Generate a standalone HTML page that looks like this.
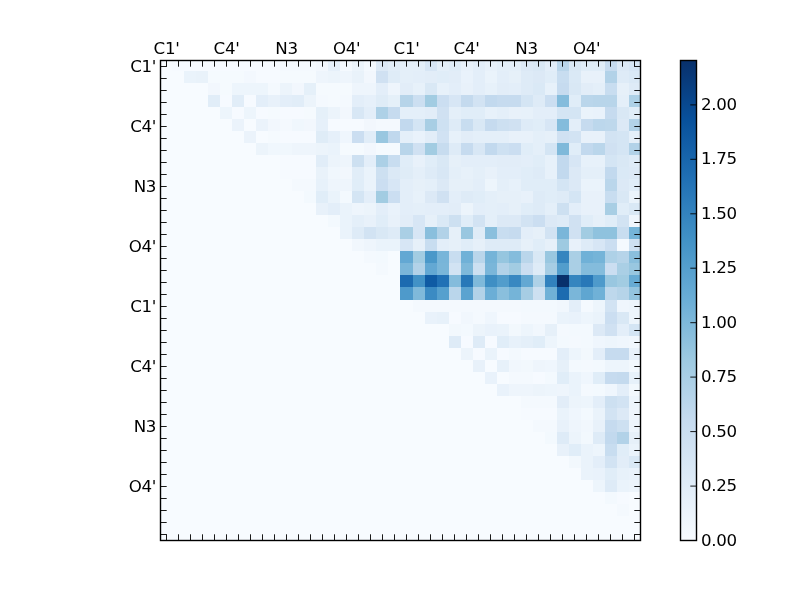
<!DOCTYPE html>
<html><head><meta charset="utf-8"><title>heatmap</title>
<style>
html,body{margin:0;padding:0;background:#fff;}
body{width:800px;height:600px;position:relative;overflow:hidden;font-family:"DejaVu Sans","Liberation Sans",sans-serif;}
svg{position:absolute;left:0;top:0;}
.t{position:absolute;font-size:16.67px;line-height:20px;height:20px;color:#000;white-space:nowrap;letter-spacing:-0.35px;}
</style></head><body>
<svg width="800" height="600" viewBox="0 0 800 600">
<defs><clipPath id="cp"><rect x="160" y="60" width="481" height="481"/></clipPath><linearGradient id="g" x1="0" y1="0" x2="0" y2="1"><stop offset="0.0000" stop-color="#08306b"/><stop offset="0.1250" stop-color="#08519c"/><stop offset="0.2500" stop-color="#2171b5"/><stop offset="0.3750" stop-color="#4292c6"/><stop offset="0.5000" stop-color="#6baed6"/><stop offset="0.6250" stop-color="#9ecae1"/><stop offset="0.7500" stop-color="#c6dbef"/><stop offset="0.8750" stop-color="#deebf7"/><stop offset="1.0000" stop-color="#f7fbff"/></linearGradient></defs>
<rect x="160" y="60" width="480" height="480" fill="#f7fbff"/>
<g shape-rendering="crispEdges" clip-path="url(#cp)">
<rect x="172" y="59" width="108" height="12" fill="#f6faff"/>
<rect x="280" y="59" width="36" height="12" fill="#f4f9fe"/>
<rect x="316" y="59" width="12" height="12" fill="#f2f7fd"/>
<rect x="328" y="59" width="12" height="12" fill="#e6f0fa"/>
<rect x="340" y="59" width="12" height="12" fill="#f4f9fe"/>
<rect x="352" y="59" width="12" height="12" fill="#ecf4fb"/>
<rect x="364" y="59" width="12" height="12" fill="#f4f9fe"/>
<rect x="376" y="59" width="12" height="12" fill="#dce9f6"/>
<rect x="388" y="59" width="12" height="12" fill="#e1edf8"/>
<rect x="400" y="59" width="25" height="12" fill="#e4eff9"/>
<rect x="425" y="59" width="12" height="12" fill="#d7e6f5"/>
<rect x="437" y="59" width="12" height="12" fill="#e4eff9"/>
<rect x="449" y="59" width="12" height="12" fill="#e0edf8"/>
<rect x="461" y="59" width="12" height="12" fill="#e8f1fa"/>
<rect x="473" y="59" width="12" height="12" fill="#e3eef9"/>
<rect x="485" y="59" width="12" height="12" fill="#e8f1fa"/>
<rect x="497" y="59" width="24" height="12" fill="#e4eff9"/>
<rect x="521" y="59" width="12" height="12" fill="#dce9f6"/>
<rect x="533" y="59" width="12" height="12" fill="#d9e8f5"/>
<rect x="545" y="59" width="12" height="12" fill="#e3eef9"/>
<rect x="557" y="59" width="12" height="12" fill="#bad6eb"/>
<rect x="569" y="59" width="12" height="12" fill="#d9e8f5"/>
<rect x="581" y="59" width="24" height="12" fill="#e0edf8"/>
<rect x="605" y="59" width="12" height="12" fill="#c6dbef"/>
<rect x="617" y="59" width="12" height="12" fill="#dce9f6"/>
<rect x="629" y="59" width="12" height="12" fill="#d7e6f5"/>
<rect x="184" y="71" width="12" height="12" fill="#eaf3fb"/>
<rect x="196" y="71" width="12" height="12" fill="#e9f2fa"/>
<rect x="208" y="71" width="36" height="12" fill="#f5fafe"/>
<rect x="244" y="71" width="12" height="12" fill="#f3f8fe"/>
<rect x="256" y="71" width="24" height="12" fill="#f6faff"/>
<rect x="280" y="71" width="36" height="12" fill="#f5fafe"/>
<rect x="316" y="71" width="12" height="12" fill="#eef5fc"/>
<rect x="328" y="71" width="12" height="12" fill="#ecf4fb"/>
<rect x="340" y="71" width="12" height="12" fill="#eef5fc"/>
<rect x="352" y="71" width="12" height="12" fill="#e9f2fa"/>
<rect x="364" y="71" width="12" height="12" fill="#f2f7fd"/>
<rect x="376" y="71" width="12" height="12" fill="#d0e1f2"/>
<rect x="388" y="71" width="12" height="12" fill="#dfecf7"/>
<rect x="400" y="71" width="13" height="12" fill="#e4eff9"/>
<rect x="413" y="71" width="12" height="12" fill="#e3eef9"/>
<rect x="425" y="71" width="12" height="12" fill="#e2edf8"/>
<rect x="437" y="71" width="12" height="12" fill="#e0edf8"/>
<rect x="449" y="71" width="12" height="12" fill="#e2edf8"/>
<rect x="461" y="71" width="12" height="12" fill="#e9f2fb"/>
<rect x="473" y="71" width="12" height="12" fill="#e3eef9"/>
<rect x="485" y="71" width="12" height="12" fill="#eaf3fb"/>
<rect x="497" y="71" width="12" height="12" fill="#e3eef9"/>
<rect x="509" y="71" width="12" height="12" fill="#e6f0f9"/>
<rect x="521" y="71" width="12" height="12" fill="#deebf7"/>
<rect x="533" y="71" width="12" height="12" fill="#dce9f6"/>
<rect x="545" y="71" width="12" height="12" fill="#e0edf8"/>
<rect x="557" y="71" width="12" height="12" fill="#c8ddf0"/>
<rect x="569" y="71" width="12" height="12" fill="#dae9f6"/>
<rect x="581" y="71" width="24" height="12" fill="#e8f1fa"/>
<rect x="605" y="71" width="12" height="12" fill="#b2d2e8"/>
<rect x="617" y="71" width="12" height="12" fill="#deebf7"/>
<rect x="629" y="71" width="12" height="12" fill="#dae9f6"/>
<rect x="208" y="83" width="12" height="12" fill="#f2f7fd"/>
<rect x="220" y="83" width="12" height="12" fill="#f5fafe"/>
<rect x="232" y="83" width="36" height="12" fill="#edf5fc"/>
<rect x="268" y="83" width="12" height="12" fill="#f4f9fe"/>
<rect x="280" y="83" width="12" height="12" fill="#ecf4fb"/>
<rect x="292" y="83" width="12" height="12" fill="#f2f7fd"/>
<rect x="304" y="83" width="12" height="12" fill="#e5f0f9"/>
<rect x="316" y="83" width="36" height="12" fill="#f5fafe"/>
<rect x="352" y="83" width="24" height="12" fill="#eef5fc"/>
<rect x="376" y="83" width="12" height="12" fill="#e3eef9"/>
<rect x="388" y="83" width="12" height="12" fill="#eef5fc"/>
<rect x="400" y="83" width="13" height="12" fill="#e2edf8"/>
<rect x="413" y="83" width="12" height="12" fill="#e7f1fa"/>
<rect x="425" y="83" width="12" height="12" fill="#d9e8f5"/>
<rect x="437" y="83" width="12" height="12" fill="#e7f1fa"/>
<rect x="449" y="83" width="12" height="12" fill="#e3eef9"/>
<rect x="461" y="83" width="12" height="12" fill="#e8f1fa"/>
<rect x="473" y="83" width="12" height="12" fill="#e3eef9"/>
<rect x="485" y="83" width="12" height="12" fill="#e7f1fa"/>
<rect x="497" y="83" width="12" height="12" fill="#e2edf8"/>
<rect x="509" y="83" width="12" height="12" fill="#e3eef9"/>
<rect x="521" y="83" width="12" height="12" fill="#deebf7"/>
<rect x="533" y="83" width="12" height="12" fill="#dae9f6"/>
<rect x="545" y="83" width="12" height="12" fill="#e7f1fa"/>
<rect x="557" y="83" width="12" height="12" fill="#c6dbef"/>
<rect x="569" y="83" width="12" height="12" fill="#d9e8f5"/>
<rect x="581" y="83" width="12" height="12" fill="#e2edf8"/>
<rect x="593" y="83" width="12" height="12" fill="#e4eff9"/>
<rect x="605" y="83" width="12" height="12" fill="#c8ddf0"/>
<rect x="617" y="83" width="12" height="12" fill="#e6f0f9"/>
<rect x="629" y="83" width="12" height="12" fill="#deebf7"/>
<rect x="208" y="95" width="12" height="12" fill="#e1edf8"/>
<rect x="220" y="95" width="12" height="12" fill="#f6faff"/>
<rect x="232" y="95" width="12" height="12" fill="#e1edf8"/>
<rect x="244" y="95" width="12" height="12" fill="#f6faff"/>
<rect x="256" y="95" width="12" height="12" fill="#e3eef9"/>
<rect x="268" y="95" width="12" height="12" fill="#e8f1fa"/>
<rect x="280" y="95" width="12" height="12" fill="#e3eef9"/>
<rect x="292" y="95" width="12" height="12" fill="#e1edf8"/>
<rect x="304" y="95" width="12" height="12" fill="#ecf4fb"/>
<rect x="316" y="95" width="12" height="12" fill="#f4f9fe"/>
<rect x="328" y="95" width="12" height="12" fill="#f5fafe"/>
<rect x="340" y="95" width="12" height="12" fill="#f4f9fe"/>
<rect x="352" y="95" width="12" height="12" fill="#e3eef9"/>
<rect x="364" y="95" width="12" height="12" fill="#e6f0fa"/>
<rect x="376" y="95" width="12" height="12" fill="#dfecf7"/>
<rect x="388" y="95" width="12" height="12" fill="#e5f0f9"/>
<rect x="400" y="95" width="13" height="12" fill="#b6d4e9"/>
<rect x="413" y="95" width="12" height="12" fill="#ccdff1"/>
<rect x="425" y="95" width="12" height="12" fill="#a2cce2"/>
<rect x="437" y="95" width="12" height="12" fill="#cbdef1"/>
<rect x="449" y="95" width="12" height="12" fill="#d7e6f5"/>
<rect x="461" y="95" width="12" height="12" fill="#c4daee"/>
<rect x="473" y="95" width="12" height="12" fill="#d2e3f3"/>
<rect x="485" y="95" width="12" height="12" fill="#c2d9ee"/>
<rect x="497" y="95" width="24" height="12" fill="#c6dbef"/>
<rect x="521" y="95" width="12" height="12" fill="#d4e5f4"/>
<rect x="533" y="95" width="12" height="12" fill="#deebf7"/>
<rect x="545" y="95" width="12" height="12" fill="#cbdef1"/>
<rect x="557" y="95" width="12" height="12" fill="#84bcdc"/>
<rect x="569" y="95" width="12" height="12" fill="#e0edf8"/>
<rect x="581" y="95" width="12" height="12" fill="#bad6eb"/>
<rect x="593" y="95" width="24" height="12" fill="#b8d5ea"/>
<rect x="617" y="95" width="12" height="12" fill="#e4eff9"/>
<rect x="629" y="95" width="12" height="12" fill="#aed1e7"/>
<rect x="220" y="107" width="12" height="12" fill="#edf5fc"/>
<rect x="232" y="107" width="12" height="12" fill="#f6faff"/>
<rect x="244" y="107" width="12" height="12" fill="#edf5fc"/>
<rect x="256" y="107" width="12" height="12" fill="#f6faff"/>
<rect x="268" y="107" width="12" height="12" fill="#f5fafe"/>
<rect x="280" y="107" width="24" height="12" fill="#f6faff"/>
<rect x="304" y="107" width="12" height="12" fill="#f5fafe"/>
<rect x="316" y="107" width="12" height="12" fill="#e5f0f9"/>
<rect x="328" y="107" width="12" height="12" fill="#ecf4fb"/>
<rect x="340" y="107" width="12" height="12" fill="#f2f7fd"/>
<rect x="352" y="107" width="12" height="12" fill="#d8e7f5"/>
<rect x="364" y="107" width="12" height="12" fill="#e3eef9"/>
<rect x="376" y="107" width="12" height="12" fill="#aed1e7"/>
<rect x="388" y="107" width="12" height="12" fill="#c6dbef"/>
<rect x="400" y="107" width="25" height="12" fill="#e4eff9"/>
<rect x="425" y="107" width="12" height="12" fill="#e2edf8"/>
<rect x="437" y="107" width="12" height="12" fill="#d0e1f2"/>
<rect x="449" y="107" width="12" height="12" fill="#e4eff9"/>
<rect x="461" y="107" width="24" height="12" fill="#e0edf8"/>
<rect x="485" y="107" width="12" height="12" fill="#e7f1fa"/>
<rect x="497" y="107" width="12" height="12" fill="#e4eff9"/>
<rect x="509" y="107" width="12" height="12" fill="#e8f1fa"/>
<rect x="521" y="107" width="12" height="12" fill="#e7f1fa"/>
<rect x="533" y="107" width="24" height="12" fill="#e3eef9"/>
<rect x="557" y="107" width="24" height="12" fill="#d4e5f4"/>
<rect x="581" y="107" width="12" height="12" fill="#eaf3fb"/>
<rect x="593" y="107" width="12" height="12" fill="#e9f2fb"/>
<rect x="605" y="107" width="12" height="12" fill="#c6dbef"/>
<rect x="617" y="107" width="12" height="12" fill="#d9e8f5"/>
<rect x="629" y="107" width="12" height="12" fill="#e0edf8"/>
<rect x="232" y="119" width="12" height="12" fill="#ebf3fb"/>
<rect x="256" y="119" width="12" height="12" fill="#ebf3fb"/>
<rect x="268" y="119" width="12" height="12" fill="#f2f7fd"/>
<rect x="280" y="119" width="12" height="12" fill="#f4f9fe"/>
<rect x="292" y="119" width="12" height="12" fill="#f0f7fd"/>
<rect x="304" y="119" width="12" height="12" fill="#f2f7fd"/>
<rect x="316" y="119" width="12" height="12" fill="#e6f0fa"/>
<rect x="328" y="119" width="36" height="12" fill="#f6faff"/>
<rect x="364" y="119" width="12" height="12" fill="#f2f7fd"/>
<rect x="376" y="119" width="24" height="12" fill="#f4f9fe"/>
<rect x="400" y="119" width="13" height="12" fill="#c2d9ee"/>
<rect x="413" y="119" width="12" height="12" fill="#d4e5f4"/>
<rect x="425" y="119" width="12" height="12" fill="#a8cee4"/>
<rect x="437" y="119" width="12" height="12" fill="#cee1f2"/>
<rect x="449" y="119" width="12" height="12" fill="#deebf7"/>
<rect x="461" y="119" width="12" height="12" fill="#c8ddf0"/>
<rect x="473" y="119" width="12" height="12" fill="#d9e8f5"/>
<rect x="485" y="119" width="12" height="12" fill="#c6dbef"/>
<rect x="497" y="119" width="12" height="12" fill="#cde0f1"/>
<rect x="509" y="119" width="12" height="12" fill="#d0e1f2"/>
<rect x="521" y="119" width="12" height="12" fill="#deebf7"/>
<rect x="533" y="119" width="12" height="12" fill="#e0edf8"/>
<rect x="545" y="119" width="12" height="12" fill="#d7e6f5"/>
<rect x="557" y="119" width="12" height="12" fill="#84bcdc"/>
<rect x="569" y="119" width="12" height="12" fill="#e3eef9"/>
<rect x="581" y="119" width="12" height="12" fill="#c6dbef"/>
<rect x="593" y="119" width="12" height="12" fill="#bcd7ec"/>
<rect x="605" y="119" width="12" height="12" fill="#bed8ec"/>
<rect x="617" y="119" width="12" height="12" fill="#dce9f6"/>
<rect x="629" y="119" width="12" height="12" fill="#b2d2e8"/>
<rect x="244" y="131" width="12" height="12" fill="#ebf3fb"/>
<rect x="268" y="131" width="12" height="12" fill="#f5fafe"/>
<rect x="280" y="131" width="36" height="12" fill="#f6faff"/>
<rect x="316" y="131" width="12" height="12" fill="#dfecf7"/>
<rect x="328" y="131" width="12" height="12" fill="#e6f0fa"/>
<rect x="340" y="131" width="12" height="12" fill="#eff6fd"/>
<rect x="352" y="131" width="12" height="12" fill="#cbdef1"/>
<rect x="364" y="131" width="12" height="12" fill="#e1edf8"/>
<rect x="376" y="131" width="12" height="12" fill="#99c7e0"/>
<rect x="388" y="131" width="12" height="12" fill="#c0d8ed"/>
<rect x="400" y="131" width="13" height="12" fill="#e4eff9"/>
<rect x="413" y="131" width="12" height="12" fill="#e9f2fb"/>
<rect x="425" y="131" width="12" height="12" fill="#e2edf8"/>
<rect x="437" y="131" width="12" height="12" fill="#d1e2f3"/>
<rect x="449" y="131" width="12" height="12" fill="#e7f1fa"/>
<rect x="461" y="131" width="12" height="12" fill="#e2edf8"/>
<rect x="473" y="131" width="36" height="12" fill="#e4eff9"/>
<rect x="509" y="131" width="24" height="12" fill="#e8f1fa"/>
<rect x="533" y="131" width="12" height="12" fill="#e4eff9"/>
<rect x="545" y="131" width="12" height="12" fill="#e6f0f9"/>
<rect x="557" y="131" width="12" height="12" fill="#d0e1f2"/>
<rect x="569" y="131" width="12" height="12" fill="#d2e3f3"/>
<rect x="581" y="131" width="24" height="12" fill="#e8f1fa"/>
<rect x="605" y="131" width="12" height="12" fill="#d2e3f3"/>
<rect x="617" y="131" width="12" height="12" fill="#d4e5f4"/>
<rect x="629" y="131" width="12" height="12" fill="#e4eff9"/>
<rect x="256" y="143" width="12" height="12" fill="#ecf4fb"/>
<rect x="268" y="143" width="24" height="12" fill="#f0f7fd"/>
<rect x="292" y="143" width="24" height="12" fill="#eef5fc"/>
<rect x="316" y="143" width="12" height="12" fill="#ecf4fb"/>
<rect x="328" y="143" width="12" height="12" fill="#eaf3fb"/>
<rect x="340" y="143" width="24" height="12" fill="#f5fafe"/>
<rect x="364" y="143" width="12" height="12" fill="#f2f7fd"/>
<rect x="376" y="143" width="24" height="12" fill="#f5fafe"/>
<rect x="400" y="143" width="13" height="12" fill="#b8d5ea"/>
<rect x="413" y="143" width="12" height="12" fill="#d0e1f2"/>
<rect x="425" y="143" width="12" height="12" fill="#a2cce2"/>
<rect x="437" y="143" width="12" height="12" fill="#c7dcef"/>
<rect x="449" y="143" width="12" height="12" fill="#deebf7"/>
<rect x="461" y="143" width="12" height="12" fill="#c6dbef"/>
<rect x="473" y="143" width="12" height="12" fill="#d8e7f5"/>
<rect x="485" y="143" width="12" height="12" fill="#c2d9ee"/>
<rect x="497" y="143" width="12" height="12" fill="#cee1f2"/>
<rect x="509" y="143" width="12" height="12" fill="#cbdef1"/>
<rect x="521" y="143" width="12" height="12" fill="#e0edf8"/>
<rect x="533" y="143" width="12" height="12" fill="#e4eff9"/>
<rect x="545" y="143" width="12" height="12" fill="#d4e5f4"/>
<rect x="557" y="143" width="12" height="12" fill="#7fb9da"/>
<rect x="569" y="143" width="12" height="12" fill="#e0edf8"/>
<rect x="581" y="143" width="12" height="12" fill="#c2d9ee"/>
<rect x="593" y="143" width="12" height="12" fill="#bad6eb"/>
<rect x="605" y="143" width="12" height="12" fill="#d0e1f2"/>
<rect x="617" y="143" width="12" height="12" fill="#d4e5f4"/>
<rect x="629" y="143" width="12" height="12" fill="#b2d2e8"/>
<rect x="280" y="155" width="36" height="12" fill="#f6faff"/>
<rect x="316" y="155" width="12" height="12" fill="#e1edf8"/>
<rect x="328" y="155" width="12" height="12" fill="#ecf4fb"/>
<rect x="340" y="155" width="12" height="12" fill="#eef5fc"/>
<rect x="352" y="155" width="12" height="12" fill="#cde0f1"/>
<rect x="364" y="155" width="12" height="12" fill="#e3eef9"/>
<rect x="376" y="155" width="12" height="12" fill="#acd0e6"/>
<rect x="388" y="155" width="12" height="12" fill="#c8ddf0"/>
<rect x="400" y="155" width="13" height="12" fill="#e0edf8"/>
<rect x="413" y="155" width="12" height="12" fill="#e8f1fa"/>
<rect x="425" y="155" width="12" height="12" fill="#e0edf8"/>
<rect x="437" y="155" width="12" height="12" fill="#d9e8f5"/>
<rect x="449" y="155" width="12" height="12" fill="#e6f0f9"/>
<rect x="461" y="155" width="36" height="12" fill="#e3eef9"/>
<rect x="497" y="155" width="24" height="12" fill="#e2edf8"/>
<rect x="521" y="155" width="12" height="12" fill="#e3eef9"/>
<rect x="533" y="155" width="12" height="12" fill="#e0edf8"/>
<rect x="545" y="155" width="12" height="12" fill="#e7f1fa"/>
<rect x="557" y="155" width="12" height="12" fill="#c2d9ee"/>
<rect x="569" y="155" width="12" height="12" fill="#d7e6f5"/>
<rect x="581" y="155" width="24" height="12" fill="#e7f1fa"/>
<rect x="605" y="155" width="12" height="12" fill="#d4e5f4"/>
<rect x="617" y="155" width="12" height="12" fill="#d9e8f5"/>
<rect x="629" y="155" width="12" height="12" fill="#deebf7"/>
<rect x="280" y="167" width="36" height="12" fill="#f6faff"/>
<rect x="316" y="167" width="12" height="12" fill="#e9f2fa"/>
<rect x="328" y="167" width="12" height="12" fill="#f0f7fd"/>
<rect x="340" y="167" width="12" height="12" fill="#f2f7fd"/>
<rect x="352" y="167" width="12" height="12" fill="#e1edf8"/>
<rect x="364" y="167" width="12" height="12" fill="#eaf3fb"/>
<rect x="376" y="167" width="12" height="12" fill="#cde0f1"/>
<rect x="388" y="167" width="12" height="12" fill="#dbe9f6"/>
<rect x="400" y="167" width="13" height="12" fill="#dfecf7"/>
<rect x="413" y="167" width="12" height="12" fill="#e4eff9"/>
<rect x="425" y="167" width="12" height="12" fill="#deebf7"/>
<rect x="437" y="167" width="12" height="12" fill="#d8e7f5"/>
<rect x="449" y="167" width="12" height="12" fill="#e4eff9"/>
<rect x="461" y="167" width="12" height="12" fill="#e7f1fa"/>
<rect x="473" y="167" width="12" height="12" fill="#e4eff9"/>
<rect x="485" y="167" width="12" height="12" fill="#e8f1fa"/>
<rect x="497" y="167" width="24" height="12" fill="#e3eef9"/>
<rect x="521" y="167" width="12" height="12" fill="#e0edf8"/>
<rect x="533" y="167" width="12" height="12" fill="#deebf7"/>
<rect x="545" y="167" width="12" height="12" fill="#e7f1fa"/>
<rect x="557" y="167" width="12" height="12" fill="#c2d9ee"/>
<rect x="569" y="167" width="12" height="12" fill="#dce9f6"/>
<rect x="581" y="167" width="24" height="12" fill="#e4eff9"/>
<rect x="605" y="167" width="12" height="12" fill="#c2d9ee"/>
<rect x="617" y="167" width="12" height="12" fill="#dae9f6"/>
<rect x="629" y="167" width="12" height="12" fill="#dce9f6"/>
<rect x="292" y="179" width="24" height="12" fill="#f4f9fe"/>
<rect x="316" y="179" width="12" height="12" fill="#e7f1fa"/>
<rect x="328" y="179" width="24" height="12" fill="#eef5fc"/>
<rect x="352" y="179" width="12" height="12" fill="#e0edf8"/>
<rect x="364" y="179" width="12" height="12" fill="#eaf3fb"/>
<rect x="376" y="179" width="12" height="12" fill="#cbdef1"/>
<rect x="388" y="179" width="12" height="12" fill="#d7e6f5"/>
<rect x="400" y="179" width="13" height="12" fill="#e3eef9"/>
<rect x="413" y="179" width="12" height="12" fill="#e6f0f9"/>
<rect x="425" y="179" width="12" height="12" fill="#e4eff9"/>
<rect x="437" y="179" width="12" height="12" fill="#dce9f6"/>
<rect x="449" y="179" width="24" height="12" fill="#e6f0f9"/>
<rect x="473" y="179" width="12" height="12" fill="#e3eef9"/>
<rect x="485" y="179" width="12" height="12" fill="#edf5fc"/>
<rect x="497" y="179" width="12" height="12" fill="#e4eff9"/>
<rect x="509" y="179" width="12" height="12" fill="#e7f1fa"/>
<rect x="521" y="179" width="36" height="12" fill="#e0edf8"/>
<rect x="557" y="179" width="12" height="12" fill="#d4e5f4"/>
<rect x="569" y="179" width="12" height="12" fill="#dce9f6"/>
<rect x="581" y="179" width="24" height="12" fill="#eaf3fb"/>
<rect x="605" y="179" width="12" height="12" fill="#bad6eb"/>
<rect x="617" y="179" width="12" height="12" fill="#dce9f6"/>
<rect x="629" y="179" width="12" height="12" fill="#e0edf8"/>
<rect x="304" y="191" width="12" height="12" fill="#f3f9fe"/>
<rect x="316" y="191" width="12" height="12" fill="#e0edf8"/>
<rect x="328" y="191" width="12" height="12" fill="#eaf3fb"/>
<rect x="340" y="191" width="12" height="12" fill="#f3f9fe"/>
<rect x="352" y="191" width="12" height="12" fill="#d4e5f4"/>
<rect x="364" y="191" width="12" height="12" fill="#e3eef9"/>
<rect x="376" y="191" width="12" height="12" fill="#a2cce2"/>
<rect x="388" y="191" width="12" height="12" fill="#cbdef1"/>
<rect x="400" y="191" width="13" height="12" fill="#e3eef9"/>
<rect x="413" y="191" width="12" height="12" fill="#e7f1fa"/>
<rect x="425" y="191" width="12" height="12" fill="#dce9f6"/>
<rect x="437" y="191" width="12" height="12" fill="#d0e1f2"/>
<rect x="449" y="191" width="12" height="12" fill="#e3eef9"/>
<rect x="461" y="191" width="12" height="12" fill="#deebf7"/>
<rect x="473" y="191" width="12" height="12" fill="#e0edf8"/>
<rect x="485" y="191" width="12" height="12" fill="#e4eff9"/>
<rect x="497" y="191" width="24" height="12" fill="#e6f0f9"/>
<rect x="521" y="191" width="12" height="12" fill="#e8f1fa"/>
<rect x="533" y="191" width="12" height="12" fill="#deebf7"/>
<rect x="545" y="191" width="12" height="12" fill="#e0edf8"/>
<rect x="557" y="191" width="12" height="12" fill="#deebf7"/>
<rect x="569" y="191" width="12" height="12" fill="#d4e5f4"/>
<rect x="581" y="191" width="24" height="12" fill="#e8f1fa"/>
<rect x="605" y="191" width="12" height="12" fill="#c8ddf0"/>
<rect x="617" y="191" width="12" height="12" fill="#d9e8f5"/>
<rect x="629" y="191" width="12" height="12" fill="#eaf3fb"/>
<rect x="316" y="203" width="12" height="12" fill="#e8f1fa"/>
<rect x="328" y="203" width="12" height="12" fill="#e3eef9"/>
<rect x="340" y="203" width="12" height="12" fill="#eaf3fb"/>
<rect x="352" y="203" width="12" height="12" fill="#eef5fc"/>
<rect x="364" y="203" width="12" height="12" fill="#ecf4fb"/>
<rect x="376" y="203" width="12" height="12" fill="#e3eef9"/>
<rect x="388" y="203" width="12" height="12" fill="#e9f2fb"/>
<rect x="400" y="203" width="13" height="12" fill="#e3eef9"/>
<rect x="413" y="203" width="12" height="12" fill="#e4eff9"/>
<rect x="425" y="203" width="24" height="12" fill="#e3eef9"/>
<rect x="449" y="203" width="12" height="12" fill="#e2edf8"/>
<rect x="461" y="203" width="12" height="12" fill="#ecf4fb"/>
<rect x="473" y="203" width="12" height="12" fill="#e3eef9"/>
<rect x="485" y="203" width="12" height="12" fill="#e4eff9"/>
<rect x="497" y="203" width="12" height="12" fill="#e3eef9"/>
<rect x="509" y="203" width="12" height="12" fill="#e6f0f9"/>
<rect x="521" y="203" width="12" height="12" fill="#e0edf8"/>
<rect x="533" y="203" width="12" height="12" fill="#deebf7"/>
<rect x="545" y="203" width="12" height="12" fill="#e4eff9"/>
<rect x="557" y="203" width="12" height="12" fill="#cde0f1"/>
<rect x="569" y="203" width="12" height="12" fill="#e3eef9"/>
<rect x="581" y="203" width="24" height="12" fill="#e8f1fa"/>
<rect x="605" y="203" width="12" height="12" fill="#a8cee4"/>
<rect x="617" y="203" width="12" height="12" fill="#e0edf8"/>
<rect x="629" y="203" width="12" height="12" fill="#d9e8f5"/>
<rect x="328" y="215" width="12" height="12" fill="#f3f9fe"/>
<rect x="340" y="215" width="12" height="12" fill="#eaf3fb"/>
<rect x="352" y="215" width="12" height="12" fill="#e4eff9"/>
<rect x="364" y="215" width="12" height="12" fill="#e8f1fa"/>
<rect x="376" y="215" width="12" height="12" fill="#e0edf8"/>
<rect x="388" y="215" width="12" height="12" fill="#e8f1fa"/>
<rect x="400" y="215" width="13" height="12" fill="#e2edf8"/>
<rect x="413" y="215" width="12" height="12" fill="#d7e6f5"/>
<rect x="425" y="215" width="12" height="12" fill="#e6f0f9"/>
<rect x="437" y="215" width="12" height="12" fill="#dae9f6"/>
<rect x="449" y="215" width="12" height="12" fill="#cde0f1"/>
<rect x="461" y="215" width="12" height="12" fill="#e0edf8"/>
<rect x="473" y="215" width="12" height="12" fill="#d2e3f3"/>
<rect x="485" y="215" width="12" height="12" fill="#e4eff9"/>
<rect x="497" y="215" width="24" height="12" fill="#dce9f6"/>
<rect x="521" y="215" width="12" height="12" fill="#d2e3f3"/>
<rect x="533" y="215" width="12" height="12" fill="#cbdef1"/>
<rect x="545" y="215" width="12" height="12" fill="#dce9f6"/>
<rect x="557" y="215" width="12" height="12" fill="#deebf7"/>
<rect x="569" y="215" width="12" height="12" fill="#d0e1f2"/>
<rect x="581" y="215" width="12" height="12" fill="#e0edf8"/>
<rect x="593" y="215" width="12" height="12" fill="#e6f0f9"/>
<rect x="605" y="215" width="12" height="12" fill="#e0edf8"/>
<rect x="617" y="215" width="12" height="12" fill="#d2e3f3"/>
<rect x="629" y="215" width="12" height="12" fill="#eff6fd"/>
<rect x="340" y="227" width="12" height="12" fill="#eaf3fb"/>
<rect x="352" y="227" width="12" height="12" fill="#deebf7"/>
<rect x="364" y="227" width="12" height="12" fill="#d2e3f3"/>
<rect x="376" y="227" width="12" height="12" fill="#d9e8f5"/>
<rect x="388" y="227" width="12" height="12" fill="#deebf7"/>
<rect x="400" y="227" width="13" height="12" fill="#aacfe5"/>
<rect x="413" y="227" width="12" height="12" fill="#d7e6f5"/>
<rect x="425" y="227" width="12" height="12" fill="#8abfdd"/>
<rect x="437" y="227" width="12" height="12" fill="#b2d2e8"/>
<rect x="449" y="227" width="12" height="12" fill="#e6f0f9"/>
<rect x="461" y="227" width="12" height="12" fill="#99c7e0"/>
<rect x="473" y="227" width="12" height="12" fill="#dfecf7"/>
<rect x="485" y="227" width="12" height="12" fill="#8abfdd"/>
<rect x="497" y="227" width="12" height="12" fill="#c8ddf0"/>
<rect x="509" y="227" width="12" height="12" fill="#c6dbef"/>
<rect x="521" y="227" width="12" height="12" fill="#e3eef9"/>
<rect x="533" y="227" width="12" height="12" fill="#e6f0f9"/>
<rect x="545" y="227" width="12" height="12" fill="#d2e3f3"/>
<rect x="557" y="227" width="12" height="12" fill="#7ab6d9"/>
<rect x="569" y="227" width="12" height="12" fill="#d0e1f2"/>
<rect x="581" y="227" width="12" height="12" fill="#a2cce2"/>
<rect x="593" y="227" width="24" height="12" fill="#8fc2de"/>
<rect x="617" y="227" width="12" height="12" fill="#c8ddf0"/>
<rect x="629" y="227" width="12" height="12" fill="#75b4d8"/>
<rect x="352" y="239" width="12" height="12" fill="#f1f7fd"/>
<rect x="364" y="239" width="12" height="12" fill="#eef5fc"/>
<rect x="376" y="239" width="24" height="12" fill="#eaf3fb"/>
<rect x="400" y="239" width="13" height="12" fill="#d7e6f5"/>
<rect x="413" y="239" width="12" height="12" fill="#e6f0f9"/>
<rect x="425" y="239" width="12" height="12" fill="#c8ddf0"/>
<rect x="437" y="239" width="12" height="12" fill="#e3eef9"/>
<rect x="449" y="239" width="12" height="12" fill="#e6f0f9"/>
<rect x="461" y="239" width="12" height="12" fill="#e0edf8"/>
<rect x="473" y="239" width="12" height="12" fill="#e6f0f9"/>
<rect x="485" y="239" width="36" height="12" fill="#deebf7"/>
<rect x="521" y="239" width="12" height="12" fill="#e6f0f9"/>
<rect x="533" y="239" width="12" height="12" fill="#e0edf8"/>
<rect x="545" y="239" width="12" height="12" fill="#e6f0f9"/>
<rect x="557" y="239" width="12" height="12" fill="#9ecae1"/>
<rect x="569" y="239" width="12" height="12" fill="#e8f1fa"/>
<rect x="581" y="239" width="12" height="12" fill="#deebf7"/>
<rect x="593" y="239" width="12" height="12" fill="#d7e6f5"/>
<rect x="605" y="239" width="12" height="12" fill="#cbdef1"/>
<rect x="617" y="239" width="12" height="12" fill="#f4f9fe"/>
<rect x="629" y="239" width="12" height="12" fill="#cde0f1"/>
<rect x="364" y="251" width="12" height="12" fill="#f4f9fe"/>
<rect x="376" y="251" width="12" height="12" fill="#f3f9fe"/>
<rect x="400" y="251" width="13" height="12" fill="#63a8d3"/>
<rect x="413" y="251" width="12" height="12" fill="#a2cce2"/>
<rect x="425" y="251" width="12" height="12" fill="#4a98c9"/>
<rect x="437" y="251" width="12" height="12" fill="#78b5d9"/>
<rect x="449" y="251" width="12" height="12" fill="#c8ddf0"/>
<rect x="461" y="251" width="12" height="12" fill="#70b1d7"/>
<rect x="473" y="251" width="12" height="12" fill="#bad6eb"/>
<rect x="485" y="251" width="12" height="12" fill="#75b4d8"/>
<rect x="497" y="251" width="12" height="12" fill="#96c6df"/>
<rect x="509" y="251" width="12" height="12" fill="#84bcdc"/>
<rect x="521" y="251" width="12" height="12" fill="#bad6eb"/>
<rect x="533" y="251" width="12" height="12" fill="#d9e8f5"/>
<rect x="545" y="251" width="12" height="12" fill="#99c7e0"/>
<rect x="557" y="251" width="12" height="12" fill="#3585bf"/>
<rect x="569" y="251" width="12" height="12" fill="#aacfe5"/>
<rect x="581" y="251" width="12" height="12" fill="#70b1d7"/>
<rect x="593" y="251" width="12" height="12" fill="#75b4d8"/>
<rect x="605" y="251" width="12" height="12" fill="#aed1e7"/>
<rect x="617" y="251" width="12" height="12" fill="#b6d4e9"/>
<rect x="629" y="251" width="12" height="12" fill="#8abfdd"/>
<rect x="376" y="263" width="12" height="12" fill="#f4f9fe"/>
<rect x="400" y="263" width="13" height="12" fill="#7ab6d9"/>
<rect x="413" y="263" width="12" height="12" fill="#b2d2e8"/>
<rect x="425" y="263" width="12" height="12" fill="#63a8d3"/>
<rect x="437" y="263" width="12" height="12" fill="#7ab6d9"/>
<rect x="449" y="263" width="12" height="12" fill="#d2e3f3"/>
<rect x="461" y="263" width="12" height="12" fill="#7fb9da"/>
<rect x="473" y="263" width="12" height="12" fill="#cde0f1"/>
<rect x="485" y="263" width="12" height="12" fill="#7ab6d9"/>
<rect x="497" y="263" width="12" height="12" fill="#b2d2e8"/>
<rect x="509" y="263" width="12" height="12" fill="#a2cce2"/>
<rect x="521" y="263" width="12" height="12" fill="#cbdef1"/>
<rect x="533" y="263" width="12" height="12" fill="#deebf7"/>
<rect x="545" y="263" width="12" height="12" fill="#a6cde4"/>
<rect x="557" y="263" width="12" height="12" fill="#529dcc"/>
<rect x="569" y="263" width="12" height="12" fill="#aacfe5"/>
<rect x="581" y="263" width="24" height="12" fill="#84bcdc"/>
<rect x="605" y="263" width="12" height="12" fill="#cbdef1"/>
<rect x="617" y="263" width="12" height="12" fill="#aacfe5"/>
<rect x="629" y="263" width="12" height="12" fill="#99c7e0"/>
<rect x="400" y="275" width="13" height="12" fill="#1c6bb0"/>
<rect x="413" y="275" width="12" height="12" fill="#4292c6"/>
<rect x="425" y="275" width="12" height="12" fill="#0f5ba4"/>
<rect x="437" y="275" width="12" height="12" fill="#2171b5"/>
<rect x="449" y="275" width="12" height="12" fill="#84bcdc"/>
<rect x="461" y="275" width="12" height="12" fill="#2878b8"/>
<rect x="473" y="275" width="12" height="12" fill="#7fb9da"/>
<rect x="485" y="275" width="12" height="12" fill="#3f8fc4"/>
<rect x="497" y="275" width="12" height="12" fill="#529dcc"/>
<rect x="509" y="275" width="12" height="12" fill="#3888c1"/>
<rect x="521" y="275" width="12" height="12" fill="#63a8d3"/>
<rect x="533" y="275" width="12" height="12" fill="#aed1e7"/>
<rect x="545" y="275" width="12" height="12" fill="#3282be"/>
<rect x="557" y="275" width="12" height="12" fill="#08306b"/>
<rect x="569" y="275" width="12" height="12" fill="#3585bf"/>
<rect x="581" y="275" width="12" height="12" fill="#2878b8"/>
<rect x="593" y="275" width="12" height="12" fill="#4e9acb"/>
<rect x="605" y="275" width="12" height="12" fill="#99c7e0"/>
<rect x="617" y="275" width="12" height="12" fill="#a2cce2"/>
<rect x="629" y="275" width="12" height="12" fill="#67abd4"/>
<rect x="400" y="287" width="13" height="13" fill="#4e9acb"/>
<rect x="413" y="287" width="12" height="13" fill="#7fb9da"/>
<rect x="425" y="287" width="12" height="13" fill="#3b8bc3"/>
<rect x="437" y="287" width="12" height="13" fill="#56a0ce"/>
<rect x="449" y="287" width="12" height="13" fill="#bad6eb"/>
<rect x="461" y="287" width="12" height="13" fill="#5ba3d0"/>
<rect x="473" y="287" width="12" height="13" fill="#b2d2e8"/>
<rect x="485" y="287" width="12" height="13" fill="#6baed6"/>
<rect x="497" y="287" width="12" height="13" fill="#8abfdd"/>
<rect x="509" y="287" width="12" height="13" fill="#75b4d8"/>
<rect x="521" y="287" width="12" height="13" fill="#a6cde4"/>
<rect x="533" y="287" width="12" height="13" fill="#cde0f1"/>
<rect x="545" y="287" width="12" height="13" fill="#70b1d7"/>
<rect x="557" y="287" width="12" height="13" fill="#1c6bb0"/>
<rect x="569" y="287" width="12" height="13" fill="#7ab6d9"/>
<rect x="581" y="287" width="12" height="13" fill="#5fa6d1"/>
<rect x="593" y="287" width="12" height="13" fill="#70b1d7"/>
<rect x="605" y="287" width="12" height="13" fill="#bed8ec"/>
<rect x="617" y="287" width="12" height="13" fill="#b6d4e9"/>
<rect x="629" y="287" width="12" height="13" fill="#94c4df"/>
<rect x="413" y="300" width="108" height="12" fill="#f4f9fe"/>
<rect x="521" y="300" width="36" height="12" fill="#f3f9fe"/>
<rect x="557" y="300" width="12" height="12" fill="#f1f7fd"/>
<rect x="569" y="300" width="12" height="12" fill="#e3eef9"/>
<rect x="581" y="300" width="12" height="12" fill="#f4f9fe"/>
<rect x="593" y="300" width="12" height="12" fill="#edf5fc"/>
<rect x="605" y="300" width="12" height="12" fill="#d2e3f3"/>
<rect x="617" y="300" width="12" height="12" fill="#eff6fd"/>
<rect x="629" y="300" width="12" height="12" fill="#edf5fc"/>
<rect x="425" y="312" width="12" height="12" fill="#e9f2fb"/>
<rect x="437" y="312" width="12" height="12" fill="#e7f1fa"/>
<rect x="449" y="312" width="12" height="12" fill="#f6faff"/>
<rect x="461" y="312" width="12" height="12" fill="#f1f7fd"/>
<rect x="473" y="312" width="12" height="12" fill="#f4f9fe"/>
<rect x="485" y="312" width="12" height="12" fill="#eff6fd"/>
<rect x="497" y="312" width="24" height="12" fill="#f6faff"/>
<rect x="521" y="312" width="36" height="12" fill="#f4f9fe"/>
<rect x="557" y="312" width="12" height="12" fill="#eaf3fb"/>
<rect x="569" y="312" width="12" height="12" fill="#e9f2fb"/>
<rect x="581" y="312" width="12" height="12" fill="#edf5fc"/>
<rect x="593" y="312" width="12" height="12" fill="#eaf3fb"/>
<rect x="605" y="312" width="12" height="12" fill="#cbdef1"/>
<rect x="617" y="312" width="12" height="12" fill="#d9e8f5"/>
<rect x="629" y="312" width="12" height="12" fill="#edf5fc"/>
<rect x="449" y="324" width="12" height="12" fill="#f2f8fd"/>
<rect x="461" y="324" width="12" height="12" fill="#f3f9fe"/>
<rect x="473" y="324" width="12" height="12" fill="#ecf4fb"/>
<rect x="485" y="324" width="12" height="12" fill="#e9f2fb"/>
<rect x="497" y="324" width="12" height="12" fill="#eaf3fb"/>
<rect x="509" y="324" width="12" height="12" fill="#f2f8fd"/>
<rect x="521" y="324" width="12" height="12" fill="#edf5fc"/>
<rect x="533" y="324" width="12" height="12" fill="#f1f7fd"/>
<rect x="545" y="324" width="12" height="12" fill="#e6f0f9"/>
<rect x="557" y="324" width="12" height="12" fill="#f4f9fe"/>
<rect x="569" y="324" width="24" height="12" fill="#f3f9fe"/>
<rect x="593" y="324" width="12" height="12" fill="#dce9f6"/>
<rect x="605" y="324" width="12" height="12" fill="#d0e1f2"/>
<rect x="617" y="324" width="12" height="12" fill="#e3eef9"/>
<rect x="629" y="324" width="12" height="12" fill="#d4e5f4"/>
<rect x="449" y="336" width="12" height="12" fill="#deebf7"/>
<rect x="461" y="336" width="12" height="12" fill="#f6faff"/>
<rect x="473" y="336" width="12" height="12" fill="#deebf7"/>
<rect x="485" y="336" width="12" height="12" fill="#f6faff"/>
<rect x="497" y="336" width="12" height="12" fill="#e0edf8"/>
<rect x="509" y="336" width="12" height="12" fill="#e7f1fa"/>
<rect x="521" y="336" width="12" height="12" fill="#e4eff9"/>
<rect x="533" y="336" width="12" height="12" fill="#e0edf8"/>
<rect x="545" y="336" width="12" height="12" fill="#edf5fc"/>
<rect x="557" y="336" width="12" height="12" fill="#f3f9fe"/>
<rect x="569" y="336" width="12" height="12" fill="#f4f9fe"/>
<rect x="581" y="336" width="12" height="12" fill="#f3f9fe"/>
<rect x="593" y="336" width="12" height="12" fill="#eff6fd"/>
<rect x="605" y="336" width="12" height="12" fill="#edf5fc"/>
<rect x="617" y="336" width="12" height="12" fill="#eff6fd"/>
<rect x="629" y="336" width="12" height="12" fill="#f1f7fd"/>
<rect x="461" y="348" width="12" height="12" fill="#ecf4fb"/>
<rect x="473" y="348" width="12" height="12" fill="#f6faff"/>
<rect x="485" y="348" width="12" height="12" fill="#eaf3fb"/>
<rect x="497" y="348" width="12" height="12" fill="#f6faff"/>
<rect x="509" y="348" width="12" height="12" fill="#f3f9fe"/>
<rect x="521" y="348" width="36" height="12" fill="#f6faff"/>
<rect x="557" y="348" width="12" height="12" fill="#e3eef9"/>
<rect x="569" y="348" width="12" height="12" fill="#edf5fc"/>
<rect x="581" y="348" width="12" height="12" fill="#f2f8fd"/>
<rect x="593" y="348" width="12" height="12" fill="#e3eef9"/>
<rect x="605" y="348" width="24" height="12" fill="#c6dbef"/>
<rect x="629" y="348" width="12" height="12" fill="#e8f1fa"/>
<rect x="473" y="360" width="12" height="12" fill="#e8f1fa"/>
<rect x="497" y="360" width="12" height="12" fill="#e7f1fa"/>
<rect x="509" y="360" width="12" height="12" fill="#f1f7fd"/>
<rect x="521" y="360" width="12" height="12" fill="#f2f8fd"/>
<rect x="533" y="360" width="12" height="12" fill="#eef5fc"/>
<rect x="545" y="360" width="12" height="12" fill="#eff6fd"/>
<rect x="557" y="360" width="12" height="12" fill="#e6f0f9"/>
<rect x="569" y="360" width="12" height="12" fill="#f3f9fe"/>
<rect x="581" y="360" width="12" height="12" fill="#f4f9fe"/>
<rect x="593" y="360" width="12" height="12" fill="#f3f9fe"/>
<rect x="605" y="360" width="24" height="12" fill="#edf5fc"/>
<rect x="629" y="360" width="12" height="12" fill="#f2f8fd"/>
<rect x="485" y="372" width="12" height="12" fill="#e9f2fb"/>
<rect x="509" y="372" width="24" height="12" fill="#f4f9fe"/>
<rect x="533" y="372" width="12" height="12" fill="#f6faff"/>
<rect x="545" y="372" width="12" height="12" fill="#f3f9fe"/>
<rect x="557" y="372" width="12" height="12" fill="#e0edf8"/>
<rect x="569" y="372" width="12" height="12" fill="#eaf3fb"/>
<rect x="581" y="372" width="12" height="12" fill="#eff6fd"/>
<rect x="593" y="372" width="12" height="12" fill="#e0edf8"/>
<rect x="605" y="372" width="12" height="12" fill="#c6dbef"/>
<rect x="617" y="372" width="12" height="12" fill="#c4daee"/>
<rect x="629" y="372" width="12" height="12" fill="#e7f1fa"/>
<rect x="497" y="384" width="12" height="12" fill="#e9f2fb"/>
<rect x="509" y="384" width="24" height="12" fill="#eef5fc"/>
<rect x="533" y="384" width="12" height="12" fill="#ecf4fb"/>
<rect x="545" y="384" width="12" height="12" fill="#edf5fc"/>
<rect x="557" y="384" width="12" height="12" fill="#eef5fc"/>
<rect x="569" y="384" width="12" height="12" fill="#eaf3fb"/>
<rect x="581" y="384" width="12" height="12" fill="#f4f9fe"/>
<rect x="593" y="384" width="12" height="12" fill="#f3f9fe"/>
<rect x="605" y="384" width="12" height="12" fill="#eff6fd"/>
<rect x="617" y="384" width="12" height="12" fill="#e3eef9"/>
<rect x="629" y="384" width="12" height="12" fill="#f2f8fd"/>
<rect x="521" y="396" width="36" height="12" fill="#f4f9fe"/>
<rect x="557" y="396" width="12" height="12" fill="#e2edf8"/>
<rect x="569" y="396" width="12" height="12" fill="#ecf4fb"/>
<rect x="581" y="396" width="12" height="12" fill="#edf5fc"/>
<rect x="593" y="396" width="12" height="12" fill="#e3eef9"/>
<rect x="605" y="396" width="12" height="12" fill="#cde0f1"/>
<rect x="617" y="396" width="12" height="12" fill="#d2e3f3"/>
<rect x="629" y="396" width="12" height="12" fill="#edf5fc"/>
<rect x="521" y="408" width="36" height="12" fill="#f6faff"/>
<rect x="557" y="408" width="12" height="12" fill="#eaf3fb"/>
<rect x="569" y="408" width="12" height="12" fill="#eff6fd"/>
<rect x="581" y="408" width="12" height="12" fill="#f3f9fe"/>
<rect x="593" y="408" width="12" height="12" fill="#eaf3fb"/>
<rect x="605" y="408" width="12" height="12" fill="#d2e3f3"/>
<rect x="617" y="408" width="12" height="12" fill="#dce9f6"/>
<rect x="629" y="408" width="12" height="12" fill="#eef5fc"/>
<rect x="533" y="420" width="24" height="12" fill="#f4f9fe"/>
<rect x="557" y="420" width="12" height="12" fill="#e8f1fa"/>
<rect x="569" y="420" width="12" height="12" fill="#eef5fc"/>
<rect x="581" y="420" width="12" height="12" fill="#f1f7fd"/>
<rect x="593" y="420" width="12" height="12" fill="#e8f1fa"/>
<rect x="605" y="420" width="12" height="12" fill="#c6dbef"/>
<rect x="617" y="420" width="12" height="12" fill="#cde0f1"/>
<rect x="629" y="420" width="12" height="12" fill="#edf5fc"/>
<rect x="545" y="432" width="12" height="12" fill="#f3f9fe"/>
<rect x="557" y="432" width="12" height="12" fill="#deebf7"/>
<rect x="569" y="432" width="12" height="12" fill="#ecf4fb"/>
<rect x="581" y="432" width="12" height="12" fill="#f2f8fd"/>
<rect x="593" y="432" width="12" height="12" fill="#deebf7"/>
<rect x="605" y="432" width="12" height="12" fill="#c2d9ee"/>
<rect x="617" y="432" width="12" height="12" fill="#b2d2e8"/>
<rect x="629" y="432" width="12" height="12" fill="#e6f0f9"/>
<rect x="557" y="444" width="12" height="12" fill="#e8f1fa"/>
<rect x="569" y="444" width="12" height="12" fill="#e0edf8"/>
<rect x="581" y="444" width="12" height="12" fill="#eaf3fb"/>
<rect x="593" y="444" width="12" height="12" fill="#edf5fc"/>
<rect x="605" y="444" width="12" height="12" fill="#c8ddf0"/>
<rect x="617" y="444" width="12" height="12" fill="#e0edf8"/>
<rect x="629" y="444" width="12" height="12" fill="#eaf3fb"/>
<rect x="569" y="456" width="12" height="12" fill="#f2f8fd"/>
<rect x="581" y="456" width="12" height="12" fill="#eaf3fb"/>
<rect x="593" y="456" width="12" height="12" fill="#e3eef9"/>
<rect x="605" y="456" width="12" height="12" fill="#d2e3f3"/>
<rect x="617" y="456" width="12" height="12" fill="#e2edf8"/>
<rect x="629" y="456" width="12" height="12" fill="#d9e8f5"/>
<rect x="581" y="468" width="12" height="12" fill="#eaf3fb"/>
<rect x="593" y="468" width="12" height="12" fill="#e9f2fb"/>
<rect x="605" y="468" width="12" height="12" fill="#e0edf8"/>
<rect x="617" y="468" width="12" height="12" fill="#e7f1fa"/>
<rect x="629" y="468" width="12" height="12" fill="#e9f2fb"/>
<rect x="593" y="480" width="12" height="12" fill="#edf5fc"/>
<rect x="605" y="480" width="12" height="12" fill="#deebf7"/>
<rect x="617" y="480" width="12" height="12" fill="#eaf3fb"/>
<rect x="629" y="480" width="12" height="12" fill="#ecf4fb"/>
<rect x="605" y="492" width="12" height="12" fill="#f3f9fe"/>
<rect x="617" y="492" width="12" height="12" fill="#f6faff"/>
<rect x="617" y="504" width="12" height="12" fill="#f4f9fe"/>
</g>
<rect x="680.5" y="60.5" width="16" height="480" fill="url(#g)"/>
<path d="M166.5 60.5v6.2M166.5 540.5v-6.2M160.5 66.5h6.2M640.5 66.5h-6.2M178.5 60.5v6.2M178.5 540.5v-6.2M160.5 78.5h6.2M640.5 78.5h-6.2M190.5 60.5v6.2M190.5 540.5v-6.2M160.5 90.5h6.2M640.5 90.5h-6.2M202.5 60.5v6.2M202.5 540.5v-6.2M160.5 102.5h6.2M640.5 102.5h-6.2M214.5 60.5v6.2M214.5 540.5v-6.2M160.5 114.5h6.2M640.5 114.5h-6.2M226.5 60.5v6.2M226.5 540.5v-6.2M160.5 126.5h6.2M640.5 126.5h-6.2M238.5 60.5v6.2M238.5 540.5v-6.2M160.5 138.5h6.2M640.5 138.5h-6.2M250.5 60.5v6.2M250.5 540.5v-6.2M160.5 150.5h6.2M640.5 150.5h-6.2M262.5 60.5v6.2M262.5 540.5v-6.2M160.5 162.5h6.2M640.5 162.5h-6.2M274.5 60.5v6.2M274.5 540.5v-6.2M160.5 174.5h6.2M640.5 174.5h-6.2M286.5 60.5v6.2M286.5 540.5v-6.2M160.5 186.5h6.2M640.5 186.5h-6.2M298.5 60.5v6.2M298.5 540.5v-6.2M160.5 198.5h6.2M640.5 198.5h-6.2M310.5 60.5v6.2M310.5 540.5v-6.2M160.5 210.5h6.2M640.5 210.5h-6.2M322.5 60.5v6.2M322.5 540.5v-6.2M160.5 222.5h6.2M640.5 222.5h-6.2M334.5 60.5v6.2M334.5 540.5v-6.2M160.5 234.5h6.2M640.5 234.5h-6.2M346.5 60.5v6.2M346.5 540.5v-6.2M160.5 246.5h6.2M640.5 246.5h-6.2M358.5 60.5v6.2M358.5 540.5v-6.2M160.5 258.5h6.2M640.5 258.5h-6.2M370.5 60.5v6.2M370.5 540.5v-6.2M160.5 270.5h6.2M640.5 270.5h-6.2M382.5 60.5v6.2M382.5 540.5v-6.2M160.5 282.5h6.2M640.5 282.5h-6.2M394.5 60.5v6.2M394.5 540.5v-6.2M160.5 294.5h6.2M640.5 294.5h-6.2M406.5 60.5v6.2M406.5 540.5v-6.2M160.5 306.5h6.2M640.5 306.5h-6.2M418.5 60.5v6.2M418.5 540.5v-6.2M160.5 318.5h6.2M640.5 318.5h-6.2M430.5 60.5v6.2M430.5 540.5v-6.2M160.5 330.5h6.2M640.5 330.5h-6.2M442.5 60.5v6.2M442.5 540.5v-6.2M160.5 342.5h6.2M640.5 342.5h-6.2M454.5 60.5v6.2M454.5 540.5v-6.2M160.5 354.5h6.2M640.5 354.5h-6.2M466.5 60.5v6.2M466.5 540.5v-6.2M160.5 366.5h6.2M640.5 366.5h-6.2M478.5 60.5v6.2M478.5 540.5v-6.2M160.5 378.5h6.2M640.5 378.5h-6.2M490.5 60.5v6.2M490.5 540.5v-6.2M160.5 390.5h6.2M640.5 390.5h-6.2M502.5 60.5v6.2M502.5 540.5v-6.2M160.5 402.5h6.2M640.5 402.5h-6.2M514.5 60.5v6.2M514.5 540.5v-6.2M160.5 414.5h6.2M640.5 414.5h-6.2M526.5 60.5v6.2M526.5 540.5v-6.2M160.5 426.5h6.2M640.5 426.5h-6.2M538.5 60.5v6.2M538.5 540.5v-6.2M160.5 438.5h6.2M640.5 438.5h-6.2M550.5 60.5v6.2M550.5 540.5v-6.2M160.5 450.5h6.2M640.5 450.5h-6.2M562.5 60.5v6.2M562.5 540.5v-6.2M160.5 462.5h6.2M640.5 462.5h-6.2M574.5 60.5v6.2M574.5 540.5v-6.2M160.5 474.5h6.2M640.5 474.5h-6.2M586.5 60.5v6.2M586.5 540.5v-6.2M160.5 486.5h6.2M640.5 486.5h-6.2M598.5 60.5v6.2M598.5 540.5v-6.2M160.5 498.5h6.2M640.5 498.5h-6.2M610.5 60.5v6.2M610.5 540.5v-6.2M160.5 510.5h6.2M640.5 510.5h-6.2M622.5 60.5v6.2M622.5 540.5v-6.2M160.5 522.5h6.2M640.5 522.5h-6.2M634.5 60.5v6.2M634.5 540.5v-6.2M160.5 534.5h6.2M640.5 534.5h-6.2" stroke="#000" stroke-width="0.9" fill="none"/>
<path d="M696.5 540.5h-6.2M696.5 486.1h-6.2M696.5 431.6h-6.2M696.5 377.1h-6.2M696.5 322.7h-6.2M696.5 268.2h-6.2M696.5 213.8h-6.2M696.5 159.3h-6.2M696.5 104.9h-6.2" stroke="#000" stroke-width="0.9" fill="none"/>
<rect x="160.5" y="60.5" width="480" height="480" fill="none" stroke="#000" stroke-width="1.4"/>
<rect x="680.5" y="60.5" width="16" height="480" fill="none" stroke="#000" stroke-width="1.4"/>
</svg>
<div class="t" style="left:166.5px;top:38.8px;width:80px;margin-left:-40px;text-align:center">C1'</div>
<div class="t" style="left:56px;top:56.5px;width:100px;text-align:right">C1'</div>
<div class="t" style="left:226.5px;top:38.8px;width:80px;margin-left:-40px;text-align:center">C4'</div>
<div class="t" style="left:56px;top:116.5px;width:100px;text-align:right">C4'</div>
<div class="t" style="left:286.5px;top:38.8px;width:80px;margin-left:-40px;text-align:center">N3</div>
<div class="t" style="left:56px;top:176.5px;width:100px;text-align:right">N3</div>
<div class="t" style="left:346.5px;top:38.8px;width:80px;margin-left:-40px;text-align:center">O4'</div>
<div class="t" style="left:56px;top:236.5px;width:100px;text-align:right">O4'</div>
<div class="t" style="left:406.5px;top:38.8px;width:80px;margin-left:-40px;text-align:center">C1'</div>
<div class="t" style="left:56px;top:296.5px;width:100px;text-align:right">C1'</div>
<div class="t" style="left:466.5px;top:38.8px;width:80px;margin-left:-40px;text-align:center">C4'</div>
<div class="t" style="left:56px;top:356.5px;width:100px;text-align:right">C4'</div>
<div class="t" style="left:526.5px;top:38.8px;width:80px;margin-left:-40px;text-align:center">N3</div>
<div class="t" style="left:56px;top:416.5px;width:100px;text-align:right">N3</div>
<div class="t" style="left:586.5px;top:38.8px;width:80px;margin-left:-40px;text-align:center">O4'</div>
<div class="t" style="left:56px;top:476.5px;width:100px;text-align:right">O4'</div>
<div class="t" style="left:701px;top:530.5px">0.00</div>
<div class="t" style="left:701px;top:476.1px">0.25</div>
<div class="t" style="left:701px;top:421.6px">0.50</div>
<div class="t" style="left:701px;top:367.1px">0.75</div>
<div class="t" style="left:701px;top:312.7px">1.00</div>
<div class="t" style="left:701px;top:258.2px">1.25</div>
<div class="t" style="left:701px;top:203.8px">1.50</div>
<div class="t" style="left:701px;top:149.3px">1.75</div>
<div class="t" style="left:701px;top:94.9px">2.00</div>
</body></html>
